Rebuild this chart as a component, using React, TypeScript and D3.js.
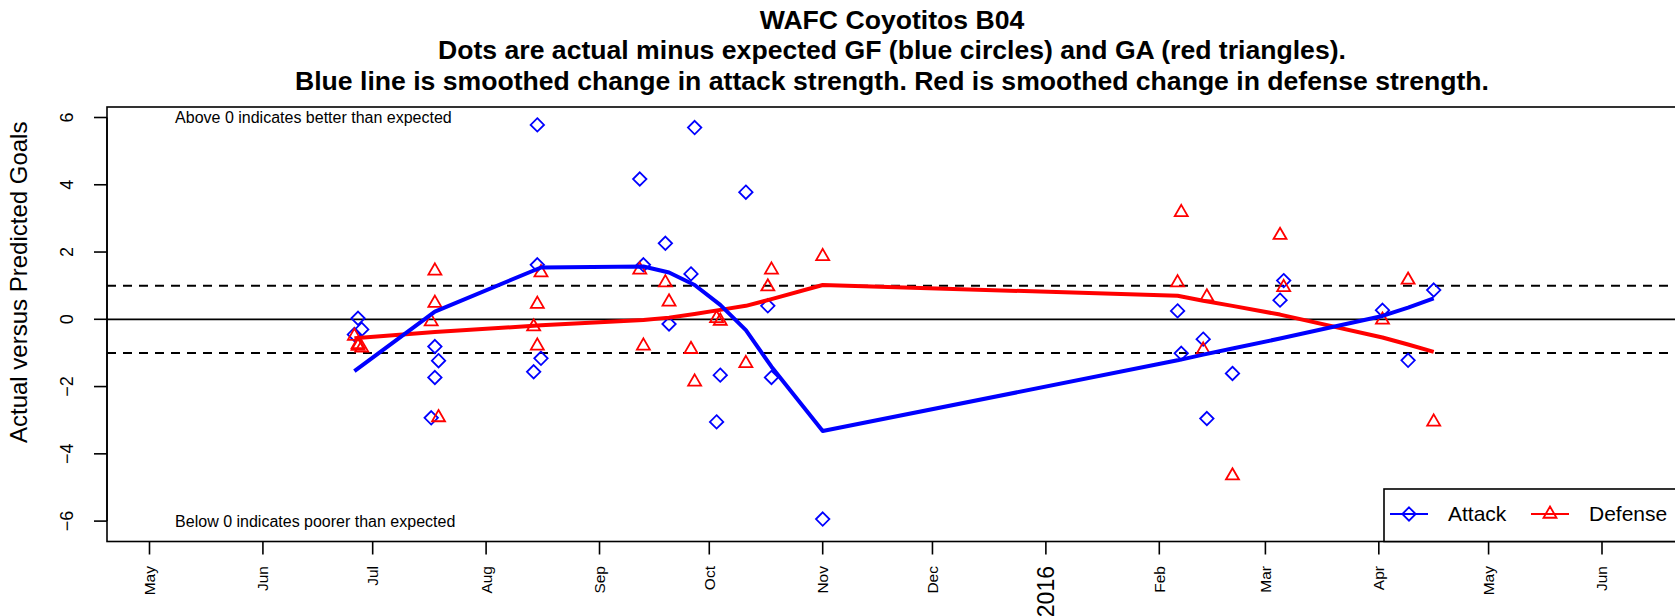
import { useEffect, useRef } from 'react'
import * as d3 from 'd3'

// Chart text
const titleLines = [
  'WAFC Coyotitos B04',
  'Dots are actual minus expected GF (blue circles) and GA (red triangles).',
  'Blue line is smoothed change in attack strength. Red is smoothed change in defense strength.',
]
const yLabel = 'Actual versus Predicted Goals'
const noteAbove = 'Above 0 indicates better than expected'
const noteBelow = 'Below 0 indicates poorer than expected'

// Axis ticks
const monthTicks = [
  '2015-05-01', '2015-06-01', '2015-07-01', '2015-08-01', '2015-09-01', '2015-10-01', '2015-11-01',
  '2015-12-01', '2016-01-01', '2016-02-01', '2016-03-01', '2016-04-01', '2016-05-01', '2016-06-01',
]
const monthLabels = ['May', 'Jun', 'Jul', 'Aug', 'Sep', 'Oct', 'Nov', 'Dec', '2016', 'Feb', 'Mar', 'Apr', 'May', 'Jun']
const yTicks = [-6, -4, -2, 0, 2, 4, 6]
const refLines = [-1, 0, 1]

// Attack: actual minus expected goals for
const attackDates = [
  '2015-06-26', '2015-06-27', '2015-06-28', '2015-07-17', '2015-07-18', '2015-07-18', '2015-07-19',
  '2015-08-14', '2015-08-15', '2015-08-15', '2015-08-16', '2015-09-12', '2015-09-13', '2015-09-19',
  '2015-09-20', '2015-09-26', '2015-09-27', '2015-10-03', '2015-10-04', '2015-10-11', '2015-10-17',
  '2015-10-18', '2015-11-01', '2016-02-06', '2016-02-07', '2016-02-13', '2016-02-14', '2016-02-21',
  '2016-03-05', '2016-03-06', '2016-04-02', '2016-04-09', '2016-04-16',
]
const attackValues = [
  -0.45, 0.03, -0.3, -2.93, -0.81, -1.73, -1.23,
  -1.56, 5.78, 1.62, -1.16, 4.17, 1.62, 2.26,
  -0.14, 1.35, 5.7, -3.05, -1.66, 3.78, 0.4,
  -1.73, -5.94, 0.25, -1.01, -0.59, -2.95, -1.61,
  0.57, 1.15, 0.27, -1.22, 0.87,
]

// Defense: actual minus expected goals against
const defenseDates = [
  '2015-06-26', '2015-06-27', '2015-06-27', '2015-06-28', '2015-07-17', '2015-07-18', '2015-07-18',
  '2015-07-19', '2015-08-14', '2015-08-15', '2015-08-15', '2015-08-16', '2015-09-12', '2015-09-13',
  '2015-09-19', '2015-09-20', '2015-09-26', '2015-09-27', '2015-10-03', '2015-10-04', '2015-10-11',
  '2015-10-17', '2015-10-18', '2015-11-01', '2016-02-06', '2016-02-07', '2016-02-13', '2016-02-14',
  '2016-02-21', '2016-03-05', '2016-03-06', '2016-04-02', '2016-04-09', '2016-04-16',
]
const defenseValues = [
  -0.5, -0.75, -0.8, -0.85, -0.07, 1.44, 0.48,
  -2.92, -0.22, 0.45, -0.79, 1.39, 1.47, -0.79,
  1.09, 0.52, -0.89, -1.86, 0.03, -0.05, -1.31,
  0.97, 1.47, 1.87, 1.09, 3.18, -0.91, 0.67,
  -4.65, 2.5, 0.95, -0.02, 1.17, -3.05,
]

// Smoothed strength changes
const smoothDates = [
  '2015-06-26', '2015-07-18', '2015-08-16', '2015-09-13', '2015-09-20', '2015-09-27', '2015-10-04',
  '2015-10-11', '2015-10-18', '2015-11-01', '2016-02-06', '2016-02-13', '2016-02-21', '2016-03-05',
  '2016-04-02', '2016-04-09', '2016-04-16',
]
const attackSmooth = [-1.54, 0.23, 1.54, 1.57, 1.39, 1.02, 0.43, -0.32, -1.41, -3.32, -1.22, -1.05, -0.87, -0.57, 0.1, 0.35, 0.62]
const defenseSmooth = [-0.56, -0.38, -0.18, -0.02, 0.05, 0.16, 0.28, 0.4, 0.6, 1.02, 0.7, 0.55, 0.4, 0.14, -0.54, -0.75, -0.97]

const legendItems = ['Attack', 'Defense']

const W = 1675
const H = 616
const FONT = '"Liberation Sans", Arial, Helvetica, sans-serif'
const BLUE = '#0000ff'
const RED = '#ff0000'

export default function App() {
  const svgRef = useRef<SVGSVGElement>(null)

  useEffect(() => {
    if (!svgRef.current) return
    document.body.style.margin = '0'

    const parse = d3.timeParse('%Y-%m-%d')
    const svg = d3.select(svgRef.current)
    svg.selectAll('*').remove()
    svg.attr('font-family', FONT)

    // plot region
    const box = { left: 107, right: 1677, top: 107, bottom: 541.5 }

    const x = d3.scaleTime()
      .domain([parse('2015-05-01')!, parse('2016-06-01')!])
      .range([149.5, 1602])
    const y = d3.scaleLinear().domain([-6, 6]).range([521.1, 117.5])

    // title
    svg.append('g')
      .selectAll('text')
      .data(titleLines)
      .join('text')
      .attr('x', (box.left + box.right) / 2)
      .attr('y', (d, i) => 28.5 + i * 30.5)
      .attr('text-anchor', 'middle')
      .attr('font-weight', 'bold')
      .attr('font-size', 26.6)
      .text(d => d)

    // reference lines
    svg.append('g')
      .selectAll('line')
      .data(refLines)
      .join('line')
      .attr('x1', box.left)
      .attr('x2', box.right)
      .attr('y1', d => y(d))
      .attr('y2', d => y(d))
      .attr('stroke', '#000')
      .attr('stroke-width', d => (d === 0 ? 1.7 : 2))
      .attr('stroke-dasharray', d => (d === 0 ? null : '9,7'))

    // points
    const diamond = (r: number) => `M0,${-r}L${r},0L0,${r}L${-r},0Z`
    const triangle = (r: number) => `M0,${-r}L${r * 0.866},${r / 2}L${-r * 0.866},${r / 2}Z`

    svg.append('g')
      .selectAll('path')
      .data(attackDates.map((d, i) => [parse(d)!, attackValues[i]] as [Date, number]))
      .join('path')
      .attr('transform', d => `translate(${x(d[0])},${y(d[1])})`)
      .attr('d', diamond(6.7))
      .attr('fill', 'none')
      .attr('stroke', BLUE)
      .attr('stroke-width', 1.8)

    svg.append('g')
      .selectAll('path')
      .data(defenseDates.map((d, i) => [parse(d)!, defenseValues[i]] as [Date, number]))
      .join('path')
      .attr('transform', d => `translate(${x(d[0])},${y(d[1])})`)
      .attr('d', triangle(7.5))
      .attr('fill', 'none')
      .attr('stroke', RED)
      .attr('stroke-width', 1.8)

    // smoothed lines
    const line = d3.line<[Date, number]>()
      .x(d => x(d[0]))
      .y(d => y(d[1]))

    const series: [number[], string][] = [[defenseSmooth, RED], [attackSmooth, BLUE]]
    series.forEach(([vals, color]) => {
      svg.append('path')
        .datum(smoothDates.map((d, i) => [parse(d)!, vals[i]] as [Date, number]))
        .attr('fill', 'none')
        .attr('stroke', color)
        .attr('stroke-width', 4)
        .attr('stroke-linejoin', 'round')
        .attr('d', line)
    })

    // notes
    svg.append('text')
      .attr('x', x(parse('2015-05-08')!))
      .attr('y', y(6))
      .attr('dy', '0.35em')
      .attr('font-size', 16)
      .text(noteAbove)
    svg.append('text')
      .attr('x', x(parse('2015-05-08')!))
      .attr('y', y(-6))
      .attr('dy', '0.35em')
      .attr('font-size', 16)
      .text(noteBelow)

    // frame
    svg.append('rect')
      .attr('x', box.left)
      .attr('y', box.top)
      .attr('width', box.right - box.left)
      .attr('height', box.bottom - box.top)
      .attr('fill', 'none')
      .attr('stroke', '#000')
      .attr('stroke-width', 1.6)

    // y axis
    const yAxis = svg.append('g')
    yAxis.append('line')
      .attr('x1', box.left).attr('x2', box.left)
      .attr('y1', y(-6)).attr('y2', y(6))
      .attr('stroke', '#000').attr('stroke-width', 1.6)
    yAxis.selectAll('line.tick')
      .data(yTicks)
      .join('line')
      .attr('class', 'tick')
      .attr('x1', box.left - 13).attr('x2', box.left)
      .attr('y1', d => y(d)).attr('y2', d => y(d))
      .attr('stroke', '#000').attr('stroke-width', 1.6)
    yAxis.selectAll('text')
      .data(yTicks)
      .join('text')
      .attr('transform', d => `translate(67,${y(d)}) rotate(-90)`)
      .attr('text-anchor', 'middle')
      .attr('dy', '0.35em')
      .attr('font-size', 18)
      .text(d => (d < 0 ? `\u2212${Math.abs(d)}` : `${d}`))

    svg.append('text')
      .attr('transform', `translate(19,${y(1.1)}) rotate(-90)`)
      .attr('text-anchor', 'middle')
      .attr('dy', '0.35em')
      .attr('font-size', 24)
      .text(yLabel)

    // x axis
    const xAxis = svg.append('g')
    const ticks = monthTicks.map(d => parse(d)!)
    xAxis.selectAll('line')
      .data(ticks)
      .join('line')
      .attr('x1', d => x(d)).attr('x2', d => x(d))
      .attr('y1', box.bottom).attr('y2', box.bottom + 13)
      .attr('stroke', '#000').attr('stroke-width', 1.6)
    xAxis.selectAll('text')
      .data(ticks)
      .join('text')
      .attr('transform', d => `translate(${x(d)},566) rotate(-90)`)
      .attr('text-anchor', 'end')
      .attr('dy', '0.35em')
      .attr('font-size', (d, i) => (monthLabels[i] === '2016' ? 23 : 15.5))
      .text((d, i) => monthLabels[i])

    // legend
    const lg = svg.append('g')
    lg.append('rect')
      .attr('x', 1384)
      .attr('y', 489)
      .attr('width', 330)
      .attr('height', box.bottom - 489)
      .attr('fill', '#fff')
      .attr('stroke', '#000')
      .attr('stroke-width', 1.6)
    const legendColors = [BLUE, RED]
    const legendX = [1390, 1531]
    legendItems.forEach((name, i) => {
      const lx = legendX[i]
      const ly = 514
      lg.append('line')
        .attr('x1', lx).attr('x2', lx + 38)
        .attr('y1', ly).attr('y2', ly)
        .attr('stroke', legendColors[i]).attr('stroke-width', 2)
      lg.append('path')
        .attr('transform', `translate(${lx + 19},${ly})`)
        .attr('d', i === 0 ? diamond(6.7) : triangle(7.5))
        .attr('fill', 'none')
        .attr('stroke', legendColors[i])
        .attr('stroke-width', 1.8)
      lg.append('text')
        .attr('x', lx + 58)
        .attr('y', ly)
        .attr('dy', '0.35em')
        .attr('font-size', 21)
        .text(name)
    })
  }, [])

  return <svg ref={svgRef} width={W} height={H} style={{ display: 'block', background: '#fff' }} />
}
